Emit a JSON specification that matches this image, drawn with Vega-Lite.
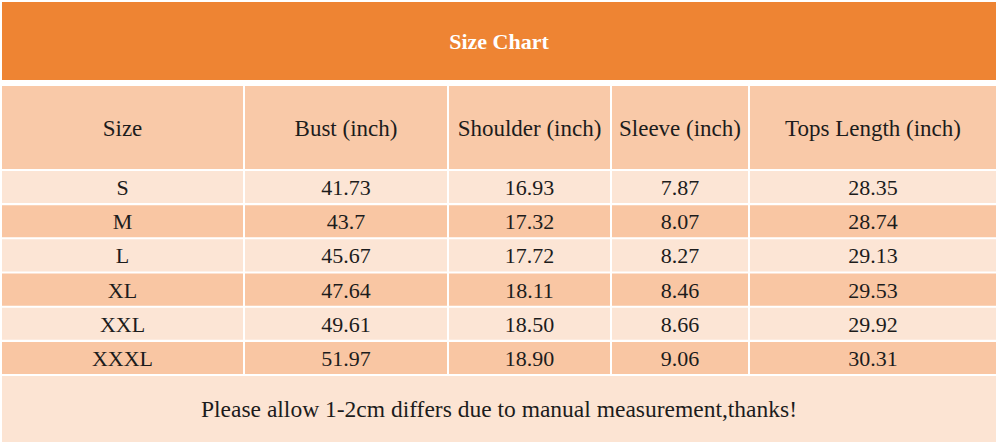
{
  "$schema": "https://vega.github.io/schema/vega-lite/v6.json",
  "background": "#ffffff",
  "padding": {"left": 2, "top": 2, "right": 4, "bottom": 3},
  "config": {
    "view": {"stroke": null},
    "text": {"font": "'Liberation Serif', 'Times New Roman', 'DejaVu Serif', serif", "fontSize": 22, "color": "#1c1c1c", "dy": 1}
  },
  "datasets": {
    "sizes": [
      {"size": "S", "bust": "41.73", "shoulder": "16.93", "sleeve": "7.87", "length": "28.35"},
      {"size": "M", "bust": "43.7", "shoulder": "17.32", "sleeve": "8.07", "length": "28.74"},
      {"size": "L", "bust": "45.67", "shoulder": "17.72", "sleeve": "8.27", "length": "29.13"},
      {"size": "XL", "bust": "47.64", "shoulder": "18.11", "sleeve": "8.46", "length": "29.53"},
      {"size": "XXL", "bust": "49.61", "shoulder": "18.50", "sleeve": "8.66", "length": "29.92"},
      {"size": "XXXL", "bust": "51.97", "shoulder": "18.90", "sleeve": "9.06", "length": "30.31"}
    ]
  },
  "spacing": 6,
  "vconcat": [
    {
      "width": 994,
      "height": 78,
      "view": {"fill": "#EE8433", "stroke": null},
      "data": {"values": [{"label": "Size Chart"}]},
      "mark": {"type": "text", "color": "#ffffff", "fontWeight": "bold", "fontSize": 22},
      "encoding": {"text": {"field": "label"}}
    },
    {
      "spacing": 2,
      "vconcat": [
        {
          "spacing": 2,
          "hconcat": [
            {"width": 241, "height": 83, "view": {"fill": "#F9C9A8", "stroke": null}, "data": {"values": [{"label": "Size"}]}, "mark": {"type": "text", "fontSize": 23}, "encoding": {"text": {"field": "label"}}},
            {"width": 202, "height": 83, "view": {"fill": "#F9C9A8", "stroke": null}, "data": {"values": [{"label": "Bust (inch)"}]}, "mark": {"type": "text", "fontSize": 23}, "encoding": {"text": {"field": "label"}}},
            {"width": 161, "height": 83, "view": {"fill": "#F9C9A8", "stroke": null}, "data": {"values": [{"label": "Shoulder (inch)"}]}, "mark": {"type": "text", "fontSize": 23}, "encoding": {"text": {"field": "label"}}},
            {"width": 136, "height": 83, "view": {"fill": "#F9C9A8", "stroke": null}, "data": {"values": [{"label": "Sleeve (inch)"}]}, "mark": {"type": "text", "fontSize": 23}, "encoding": {"text": {"field": "label"}}},
            {"width": 246, "height": 83, "view": {"fill": "#F9C9A8", "stroke": null}, "data": {"values": [{"label": "Tops Length (inch)"}]}, "mark": {"type": "text", "fontSize": 23}, "encoding": {"text": {"field": "label"}}}
          ]
        },
        {
          "spacing": 2,
          "data": {"name": "sizes"},
          "hconcat": [
            {
              "width": 241, "height": 203,
              "encoding": {"y": {"field": "size", "type": "ordinal", "scale": {"domain": ["S", "M", "L", "XL", "XXL", "XXXL"], "paddingInner": 0.06, "paddingOuter": 0}, "axis": null}},
              "layer": [
                {"mark": "rect", "encoding": {"color": {"field": "size", "type": "nominal", "scale": {"domain": ["S", "M", "L", "XL", "XXL", "XXXL"], "range": ["#FCE5D5", "#F9C6A3", "#FCE5D5", "#F9C6A3", "#FCE5D5", "#F9C6A3"]}, "legend": null}}},
                {"mark": "text", "encoding": {"text": {"field": "size"}}}
              ]
            },
            {
              "width": 202, "height": 203,
              "encoding": {"y": {"field": "size", "type": "ordinal", "scale": {"domain": ["S", "M", "L", "XL", "XXL", "XXXL"], "paddingInner": 0.06, "paddingOuter": 0}, "axis": null}},
              "layer": [
                {"mark": "rect", "encoding": {"color": {"field": "size", "type": "nominal", "scale": {"domain": ["S", "M", "L", "XL", "XXL", "XXXL"], "range": ["#FCE5D5", "#F9C6A3", "#FCE5D5", "#F9C6A3", "#FCE5D5", "#F9C6A3"]}, "legend": null}}},
                {"mark": "text", "encoding": {"text": {"field": "bust"}}}
              ]
            },
            {
              "width": 161, "height": 203,
              "encoding": {"y": {"field": "size", "type": "ordinal", "scale": {"domain": ["S", "M", "L", "XL", "XXL", "XXXL"], "paddingInner": 0.06, "paddingOuter": 0}, "axis": null}},
              "layer": [
                {"mark": "rect", "encoding": {"color": {"field": "size", "type": "nominal", "scale": {"domain": ["S", "M", "L", "XL", "XXL", "XXXL"], "range": ["#FCE5D5", "#F9C6A3", "#FCE5D5", "#F9C6A3", "#FCE5D5", "#F9C6A3"]}, "legend": null}}},
                {"mark": "text", "encoding": {"text": {"field": "shoulder"}}}
              ]
            },
            {
              "width": 136, "height": 203,
              "encoding": {"y": {"field": "size", "type": "ordinal", "scale": {"domain": ["S", "M", "L", "XL", "XXL", "XXXL"], "paddingInner": 0.06, "paddingOuter": 0}, "axis": null}},
              "layer": [
                {"mark": "rect", "encoding": {"color": {"field": "size", "type": "nominal", "scale": {"domain": ["S", "M", "L", "XL", "XXL", "XXXL"], "range": ["#FCE5D5", "#F9C6A3", "#FCE5D5", "#F9C6A3", "#FCE5D5", "#F9C6A3"]}, "legend": null}}},
                {"mark": "text", "encoding": {"text": {"field": "sleeve"}}}
              ]
            },
            {
              "width": 246, "height": 203,
              "encoding": {"y": {"field": "size", "type": "ordinal", "scale": {"domain": ["S", "M", "L", "XL", "XXL", "XXXL"], "paddingInner": 0.06, "paddingOuter": 0}, "axis": null}},
              "layer": [
                {"mark": "rect", "encoding": {"color": {"field": "size", "type": "nominal", "scale": {"domain": ["S", "M", "L", "XL", "XXL", "XXXL"], "range": ["#FCE5D5", "#F9C6A3", "#FCE5D5", "#F9C6A3", "#FCE5D5", "#F9C6A3"]}, "legend": null}}},
                {"mark": "text", "encoding": {"text": {"field": "length"}}}
              ]
            }
          ]
        },
        {
          "width": 994,
          "height": 66,
          "view": {"fill": "#FCE4D3", "stroke": null},
          "data": {"values": [{"label": "Please allow 1-2cm differs due to manual measurement,thanks!"}]},
          "mark": {"type": "text", "fontSize": 23.5},
          "encoding": {"text": {"field": "label"}}
        }
      ]
    }
  ]
}
